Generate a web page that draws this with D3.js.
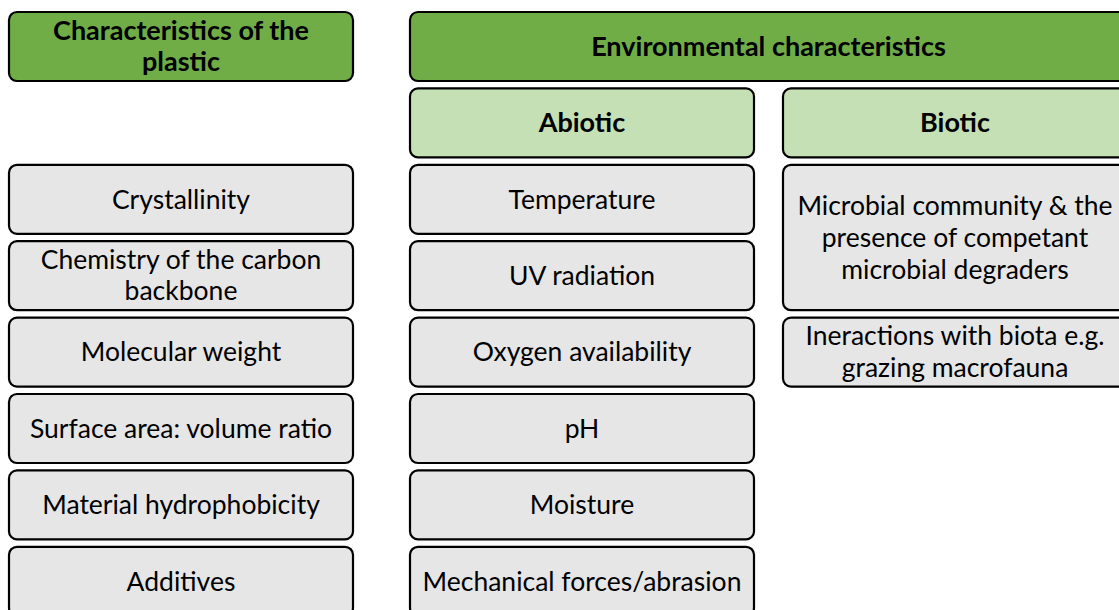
<!DOCTYPE html>
<html><head><meta charset="utf-8">
<script src="https://cdn.jsdelivr.net/npm/d3@7"></script>
<style>html,body{margin:0;padding:0;background:#fff;}svg{display:block;}</style>
</head><body>
<svg id="chart" width="1119" height="610"></svg>
<script>
// ---- data ----
const columnNames = ["plastic", "abiotic", "biotic"];
const mainHeaders = ["Characteristics of the\nplastic", "Environmental characteristics"];
const subHeaders = ["Abiotic", "Biotic"];
const plasticFactors = ["Crystallinity", "Chemistry of the carbon\nbackbone", "Molecular weight",
  "Surface area: volume ratio", "Material hydrophobicity", "Additives"];
const abioticFactors = ["Temperature", "UV radiation", "Oxygen availability", "pH", "Moisture",
  "Mechanical forces/abrasion"];
const bioticFactors = ["Microbial community & the\npresence of competant\nmicrobial degraders",
  "Ineractions with biota e.g.\ngrazing macrofauna"];
const bioticSpans = [2, 1];

const svg = d3.select("#chart");
const FONT = "Lato, 'Open Sans', sans-serif";
const colors = {main: "#70AD47", sub: "#C5E0B4", item: "#E6E6E6"};
const BOLD_SIZE = 27, NORM_SIZE = 26.5;

// scales
const x = d3.scaleOrdinal().domain(columnNames).range([9, 410, 783]);
const colW = 344;
const y = d3.scaleBand().domain(d3.range(8)).range([12, 12 + 8 * 76.4 - 7.4]).paddingInner(7.4 / 76.4).paddingOuter(0);
const rowH = y.bandwidth();
const step = y.step();

function box(x0, y0, w, h, fill, label, bold, lh) {
  const size = bold ? BOLD_SIZE : NORM_SIZE;
  const g = svg.append("g");
  g.append("rect").attr("x", x0).attr("y", y0).attr("width", w).attr("height", h)
    .attr("rx", 8).attr("ry", 8).attr("fill", fill).attr("stroke", "#000").attr("stroke-width", 2.2);
  const lines = label.split("\n");
  const cx = x0 + w / 2, cy = y0 + h / 2;
  const t = g.append("text").attr("text-anchor", "middle").attr("font-family", FONT)
    .attr("font-size", size).attr("font-weight", bold ? "bold" : "normal").attr("fill", "#000");
  lines.forEach((l, i) => {
    t.append("tspan").attr("x", cx)
      .attr("y", cy + (i - (lines.length - 1) / 2) * lh)
      .attr("dy", "0.35em").text(l);
  });
}

// main headers
box(x("plastic"), y(0), colW, rowH, colors.main, mainHeaders[0], true, 31);
box(x("abiotic"), y(0), x("biotic") + colW - x("abiotic"), rowH, colors.main, mainHeaders[1], true, 31);
// sub headers
box(x("abiotic"), y(1), colW, rowH, colors.sub, subHeaders[0], true, 31);
box(x("biotic"), y(1), colW, rowH, colors.sub, subHeaders[1], true, 31);

plasticFactors.forEach((d, i) => box(x("plastic"), y(i + 2), colW, rowH, colors.item, d, false, 31));
abioticFactors.forEach((d, i) => box(x("abiotic"), y(i + 2), colW, rowH, colors.item, d, false, 31));
let r = 2;
bioticFactors.forEach((d, i) => {
  const span = bioticSpans[i];
  box(x("biotic"), y(r), colW, rowH + (span - 1) * step, colors.item, d, false, 32);
  r += span;
});
</script>
</body></html>
